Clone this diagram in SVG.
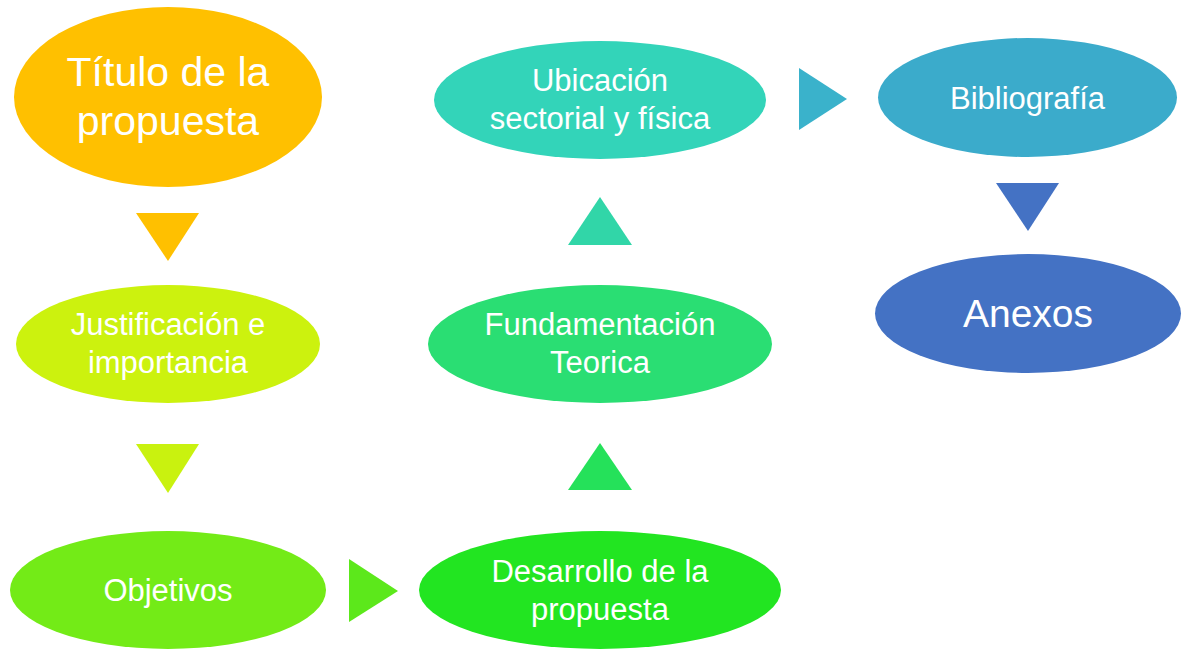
<svg xmlns="http://www.w3.org/2000/svg" width="1183" height="649" viewBox="0 0 1183 649">
<style>
text{font-family:"Liberation Sans",Arial,sans-serif;fill:#fff;text-anchor:middle}
.m{font-size:31px}
</style>
<rect width="1183" height="649" fill="#fff"/>
<g id="connectors">
<polygon points="136,213 199,213 168,261" fill="#FFC000"/>
<polygon points="136,444 199,444 168,493" fill="#C9F20F"/>
<polygon points="349,559 349,622 398,591" fill="#5CE81B"/>
<polygon points="568,490 632,490 600,443" fill="#25E15A"/>
<polygon points="568,245 632,245 600,197" fill="#31D6A8"/>
<polygon points="799,68 799,130 847,99" fill="#3AB2CB"/>
<polygon points="996,183 1059,183 1028,231" fill="#4472C4"/>
</g>
<g id="n1"><ellipse cx="168" cy="97" rx="154" ry="90" fill="#FFC000"/><text x="168" y="86" font-size="41">Título de la</text><text x="168" y="135" font-size="41">propuesta</text></g>
<g id="n2"><ellipse cx="168" cy="344" rx="152" ry="59" fill="#CCF20E"/><text class="m" x="168" y="335">Justificación e</text><text class="m" x="168" y="373">importancia</text></g>
<g id="n3"><ellipse cx="168" cy="590" rx="158" ry="59" fill="#73EB17"/><text class="m" x="168" y="601">Objetivos</text></g>
<g id="n4"><ellipse cx="600" cy="590" rx="181" ry="59" fill="#22E521"/><text class="m" x="600" y="582">Desarrollo de la</text><text class="m" x="600" y="620">propuesta</text></g>
<g id="n5"><ellipse cx="600" cy="344" rx="172" ry="59" fill="#2ADE73"/><text class="m" x="600" y="335">Fundamentación</text><text class="m" x="600" y="373">Teorica</text></g>
<g id="n6"><ellipse cx="600" cy="100" rx="166" ry="59" fill="#33D4B9"/><text class="m" x="600" y="91">Ubicación</text><text class="m" x="600" y="129">sectorial y física</text></g>
<g id="n7"><ellipse cx="1027.5" cy="97.5" rx="149.5" ry="59.5" fill="#3BABCB"/><text class="m" x="1027.5" y="108.5">Bibliografía</text></g>
<g id="n8"><ellipse cx="1028" cy="313.5" rx="153" ry="59.5" fill="#4472C4"/><text x="1028" y="327" font-size="39">Anexos</text></g>
</svg>
